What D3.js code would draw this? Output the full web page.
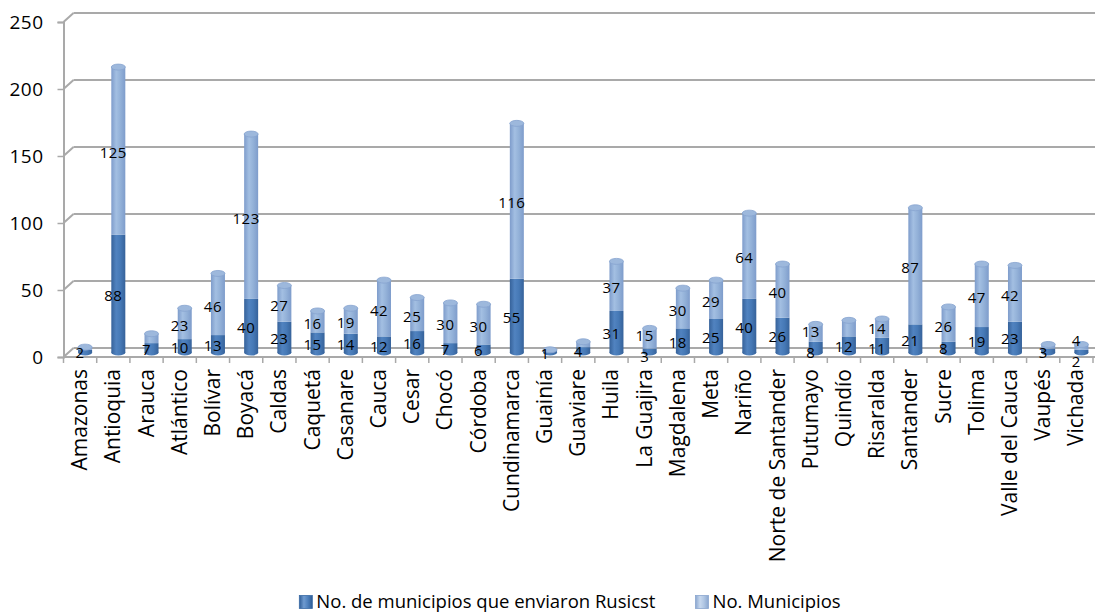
<!DOCTYPE html>
<html>
<head>
<meta charset="utf-8">
<script src="https://cdn.jsdelivr.net/npm/d3@7"></script>
<style>
  html, body { margin: 0; padding: 0; background: #fff; }
  svg { display: block; font-family: "Open Sans", "Noto Sans", sans-serif; }
</style>
</head>
<body>
<svg id="chart" width="1095" height="616"></svg>
<script>
// Municipios por departamento: enviados vs. total
const departamentos = ["Amazonas", "Antioquia", "Arauca", "Atlántico", "Bolívar", "Boyacá", "Caldas",
  "Caquetá", "Casanare", "Cauca", "Cesar", "Chocó", "Córdoba", "Cundinamarca", "Guainía", "Guaviare",
  "Huila", "La Guajira", "Magdalena", "Meta", "Nariño", "Norte de Santander", "Putumayo", "Quindío",
  "Risaralda", "Santander", "Sucre", "Tolima", "Valle del Cauca", "Vaupés", "Vichada"];
const enviaron = [2, 88, 7, 10, 13, 40, 23, 15, 14, 12, 16, 7, 6, 55, 1, 4, 31, 3, 18, 25, 40, 26, 8, 12, 11, 21, 8, 19, 23, 3, 2];
const municipios = [2, 125, 7, 23, 46, 123, 27, 16, 19, 42, 25, 30, 30, 116, 1, 4, 37, 15, 30, 29, 64, 40, 13, 12, 14, 87, 26, 47, 42, 3, 4];
const serieNombres = ["No. de municipios que enviaron Rusicst", "No. Municipios"];
const yTicks = [0, 50, 100, 150, 200, 250];

const svg = d3.select("#chart");
const defs = svg.append("defs");

// 3D depth of the chart box
const depthX = 10, depthY = 9;

const x = d3.scaleBand().domain(departamentos).range([63.5, 1093]).padding(0);
// mid-depth scale (where the cylinders stand)
const y = d3.scaleLinear().domain([0, 250]).range([352.5, 17.5]);
const yFront = v => y(v) + depthY / 2;
const yBack = v => y(v) - depthY / 2;

const grid = "#a9a9a9";

// back wall gridlines and side-wall connectors
const g = svg.append("g");
yTicks.forEach(t => {
  g.append("line").attr("x1", 63.5 + depthX).attr("x2", 1095)
    .attr("y1", yBack(t)).attr("y2", yBack(t))
    .attr("stroke", grid).attr("stroke-width", 2);
  g.append("line").attr("x1", 63.5).attr("x2", 63.5 + depthX)
    .attr("y1", yFront(t)).attr("y2", yBack(t))
    .attr("stroke", grid).attr("stroke-width", 2);
});

// front floor edge (category axis)
g.append("line").attr("x1", 63.5).attr("x2", 1095)
  .attr("y1", yFront(0)).attr("y2", yFront(0))
  .attr("stroke", grid).attr("stroke-width", 2);

// value axis on the front left edge
const yAxis = d3.axisLeft(d3.scaleLinear().domain([0, 250]).range([yFront(0), yFront(250)]))
  .tickValues(yTicks).tickSize(6).tickPadding(14);
const ya = svg.append("g").attr("transform", "translate(63.5,0)").call(yAxis);
ya.select(".domain").attr("stroke", grid).attr("stroke-width", 2);
ya.selectAll(".tick line").attr("stroke", grid).attr("stroke-width", 1.5);
ya.selectAll(".tick text").attr("font-size", 19).attr("fill", "#000")
  .attr("letter-spacing", 0.5)
  .attr("font-family", "Open Sans, sans-serif");

// category axis ticks and rotated names
const xa = svg.append("g").attr("transform", `translate(0,${yFront(0)})`);
d3.range(departamentos.length + 1).forEach(i => {
  const xx = 63.5 + i * x.step();
  xa.append("line").attr("x1", xx).attr("x2", xx).attr("y1", 0).attr("y2", 6)
    .attr("stroke", grid).attr("stroke-width", 1.5);
});
xa.selectAll("text.cat").data(departamentos).join("text")
  .attr("class", "cat")
  .attr("transform", d => `translate(${x(d) + x.bandwidth() / 2 + 7},12) rotate(-90)`)
  .attr("text-anchor", "end")
  .attr("font-size", 21)
  .attr("fill", "#000")
  .text(d => d);

// cylinder gradients
function cylGradient(id, edge, mid, light) {
  const gr = defs.append("linearGradient").attr("id", id).attr("x1", 0).attr("x2", 1).attr("y1", 0).attr("y2", 0);
  gr.append("stop").attr("offset", "0%").attr("stop-color", edge);
  gr.append("stop").attr("offset", "35%").attr("stop-color", light);
  gr.append("stop").attr("offset", "65%").attr("stop-color", mid);
  gr.append("stop").attr("offset", "100%").attr("stop-color", edge);
}
cylGradient("gDark", "#36629a", "#4679b6", "#5183c0");
cylGradient("gLight", "#7e9ccb", "#93b1d8", "#a3bfe2");
cylGradient("gLegDark", "#2f5d96", "#4f81bd", "#6f9bd0");
cylGradient("gLegLight", "#8aa6cf", "#b0c6e3", "#c7d8ee");

const barW = 14;
const bars = svg.append("g");
departamentos.forEach((d, i) => {
  const cx = x(d) + x.bandwidth() / 2 + depthX / 2;
  const v0 = enviaron[i], v1 = municipios[i];
  const top = v0 + v1;
  const capR = 3;
  // lower segment
  bars.append("rect").attr("x", cx - barW / 2).attr("width", barW)
    .attr("y", y(v0)).attr("height", y(0) - y(v0))
    .attr("fill", "url(#gDark)");
  bars.append("ellipse").attr("cx", cx).attr("cy", y(0)).attr("rx", barW / 2).attr("ry", capR)
    .attr("fill", "url(#gDark)");
  // upper segment with rounded cap
  bars.append("rect").attr("x", cx - barW / 2).attr("width", barW)
    .attr("y", y(top)).attr("height", y(v0) - y(top))
    .attr("fill", "url(#gLight)");
  bars.append("ellipse").attr("cx", cx).attr("cy", y(top)).attr("rx", barW / 2).attr("ry", capR)
    .attr("fill", "#9db8dc").attr("stroke", "#86a3cf").attr("stroke-width", 0.8);
});

// data labels at segment centres, nudged apart when they would collide
const labels = svg.append("g").attr("font-size", 15).attr("letter-spacing", 0.5)
  .attr("fill", "#000").attr("text-anchor", "middle");
departamentos.forEach((d, i) => {
  const lx = x(d) + x.bandwidth() / 2;
  const v0 = enviaron[i], v1 = municipios[i];
  let y0 = y(v0 / 2) + 2;
  let y1 = y(v0 + v1 / 2) + 2;
  if (v0 === v1 && v0 < 15) {
    labels.append("text").attr("x", lx).attr("y", y0).attr("dy", "0.35em").text(v0);
    return;
  }
  const minGap = 20.5;
  if (y0 - y1 < minGap) {
    const m = (y0 + y1) / 2;
    y0 = m + minGap / 2;
    y1 = m - minGap / 2;
  }
  labels.append("text").attr("x", lx).attr("y", y0).attr("dy", "0.35em").text(v0);
  labels.append("text").attr("x", lx).attr("y", y1).attr("dy", "0.35em").text(v1);
});

// legend
const legend = svg.append("g").attr("font-size", 18.5);
const legFills = ["url(#gLegDark)", "url(#gLegLight)"];
let lxPos = 0;
serieNombres.forEach((name, i) => {
  const it = legend.append("g");
  it.append("rect").attr("x", 0).attr("y", -6.5).attr("width", 13).attr("height", 13)
    .attr("fill", legFills[i]).attr("stroke", i === 0 ? "#3a6aa5" : "#8aa6cf").attr("stroke-width", 0.8);
  const t = it.append("text").attr("x", 17).attr("y", 0).attr("dy", "0.35em").attr("fill", "#000").text(name);
  const w = 17 + t.node().getComputedTextLength();
  it.attr("transform", `translate(${lxPos},602)`);
  lxPos += w + 40;
});
const total = lxPos - 40;
legend.attr("transform", `translate(${570 - total / 2},0)`);
</script>
</body>
</html>
